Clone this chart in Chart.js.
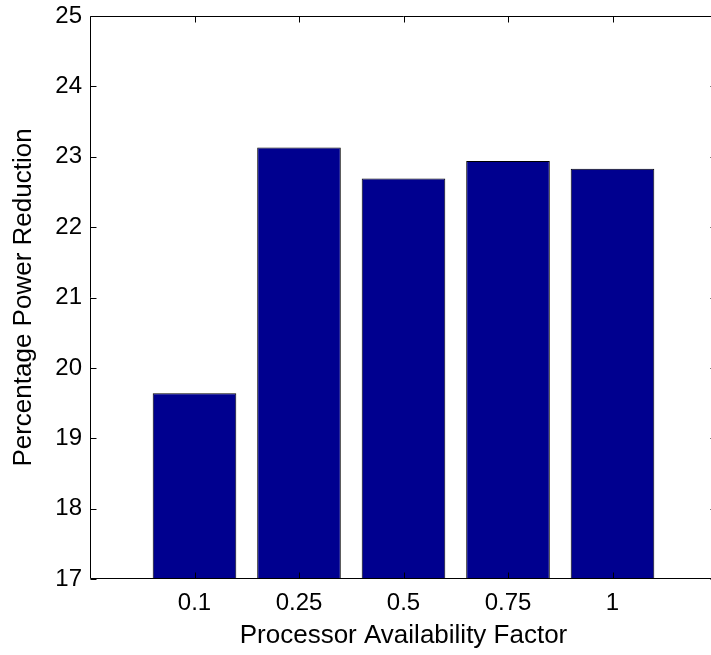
<!DOCTYPE html>
<html>
<head>
<meta charset="utf-8">
<script src="https://cdn.jsdelivr.net/npm/chart.js@4/dist/chart.umd.min.js"></script>
<style>
html,body{margin:0;padding:0;background:#fff;overflow:hidden;}
#wrap{width:711px;height:655px;overflow:hidden;position:relative;}
canvas{display:block;}
</style>
</head>
<body>
<div id="wrap"><canvas id="c" width="717" height="655"></canvas></div>
<script>
const categories = ['0.1', '0.25', '0.5', '0.75', '1'];
const reduction = [19.64, 23.13, 22.69, 22.94, 22.83];
const yTicks = [17, 18, 19, 20, 21, 22, 23, 24, 25];

// pad with empty slots so categories sit at positions 1..5 of a 0..6 axis
const labels = [''].concat(categories, ['']);
const values = [null].concat(reduction, [null]);

const FONT = '"Liberation Sans", Arial, Helvetica, sans-serif';

const frame = {
  id: 'frame',
  afterDatasetsDraw(chart) {
    const ctx = chart.ctx, a = chart.chartArea;
    const xs = chart.scales.x, ys = chart.scales.y;
    const L = Math.round(a.left) + 0.5, R = Math.round(a.right) - 0.5;
    const T = Math.round(a.top) + 0.5, B = Math.round(a.bottom) - 0.5;
    const tl = 6;
    ctx.save();
    ctx.strokeStyle = '#000';
    ctx.lineWidth = 1;
    ctx.beginPath();
    ctx.rect(L, T, R - L, B - T);
    ctx.stroke();
    ctx.beginPath();
    yTicks.forEach(v => {
      const y = Math.round(ys.getPixelForValue(v)) + 0.5;
      ctx.moveTo(L, y); ctx.lineTo(L + tl, y);
      ctx.moveTo(R, y); ctx.lineTo(R - tl, y);
    });
    categories.forEach((c, i) => {
      const x = Math.round(xs.getPixelForValue(i + 1)) + 0.5;
      ctx.moveTo(x, B); ctx.lineTo(x, B - tl);
      ctx.moveTo(x, T); ctx.lineTo(x, T + tl);
    });
    ctx.stroke();
    ctx.restore();
  }
};

new Chart(document.getElementById('c'), {
  type: 'bar',
  data: {
    labels: labels,
    datasets: [{
      data: values,
      backgroundColor: 'rgb(0,0,143)',
      borderColor: '#000',
      borderWidth: 1,
      barPercentage: 0.8,
      categoryPercentage: 1.0
    }]
  },
  options: {
    responsive: false,
    devicePixelRatio: 1,
    animation: false,
    layout: { autoPadding: false, padding: { top: 16, right: 0, bottom: 0, left: 0 } },
    plugins: { legend: { display: false }, tooltip: { enabled: false } },
    scales: {
      x: {
        type: 'category',
        offset: false,
        grid: { display: false, drawTicks: false },
        border: { display: false },
        ticks: { color: '#000', font: { family: FONT, size: 24 }, padding: 10, maxRotation: 0, autoSkip: false },
        title: { display: true, text: 'Processor Availability Factor', color: '#000', font: { family: FONT, size: 26 }, padding: { top: 0, bottom: 4 } },
        afterFit(s) { s.height = 76; s.paddingLeft = 0; s.paddingRight = 0; s.paddingTop = 0; s.paddingBottom = 0; }
      },
      y: {
        min: 17, max: 25,
        grid: { display: false, drawTicks: false },
        border: { display: false },
        ticks: { stepSize: 1, color: '#000', font: { family: FONT, size: 24 }, padding: 8 },
        title: { display: true, text: 'Percentage Power Reduction', color: '#000', font: { family: FONT, size: 26 }, padding: { top: 8, bottom: 0 } },
        afterFit(s) { s.width = 90; s.paddingLeft = 0; s.paddingRight = 0; s.paddingTop = 0; s.paddingBottom = 0; }
      }
    }
  },
  plugins: [frame]
});
</script>
</body>
</html>
